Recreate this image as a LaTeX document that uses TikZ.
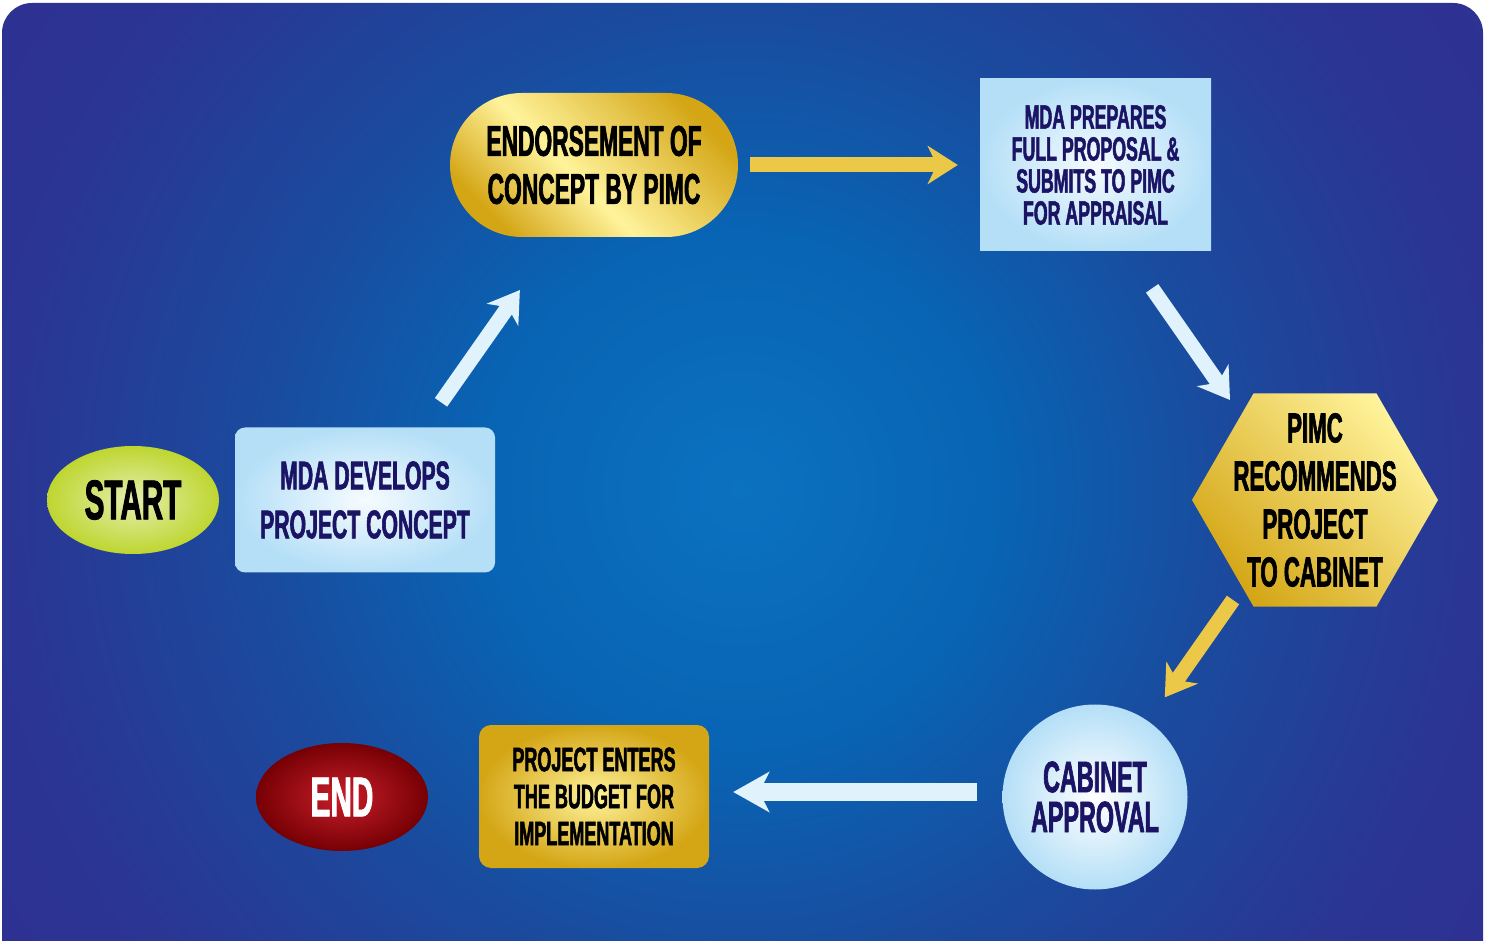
\documentclass[tikz,border=0pt]{standalone}
\usepackage{fontspec}
\setmainfont{Liberation Sans}[FakeStretch=0.53, BoldFeatures={FakeBold=1.5}]
\usetikzlibrary{shapes, arrows.meta, calc, positioning}
\definecolor{seacore}{RGB}{11,114,192}
\definecolor{seainner}{RGB}{8,100,180}
\definecolor{seamid}{RGB}{26,75,158}
\definecolor{searim}{RGB}{43,53,147}
\definecolor{seadeep}{RGB}{46,49,146}
\definecolor{limepale}{RGB}{230,238,175}
\definecolor{limedeep}{RGB}{190,214,48}
\definecolor{skypale}{RGB}{246,251,255}
\definecolor{skydeep}{RGB}{180,223,247}
\definecolor{golddeep}{RGB}{212,166,22}
\definecolor{goldpale}{RGB}{255,243,155}
\definecolor{endred}{RGB}{200,30,42}
\definecolor{endmaroon}{RGB}{118,0,4}
\definecolor{inkblue}{RGB}{27,20,100}
\definecolor{goldshaft}{RGB}{236,200,72}
\definecolor{frostshaft}{RGB}{224,242,252}
\pgfdeclareradialshading{seaglow}{\pgfpoint{0bp}{0bp}}{color(0bp)=(seacore); color(8bp)=(seainner); color(15bp)=(seamid); color(23bp)=(searim); color(28bp)=(seadeep); color(50bp)=(seadeep)}
\pgfdeclarehorizontalshading{goldsheen}{100bp}{color(0bp)=(golddeep); color(25bp)=(golddeep); color(45bp)=(goldpale); color(75bp)=(golddeep); color(100bp)=(golddeep)}
\pgfdeclarehorizontalshading{goldrise}{100bp}{color(0bp)=(golddeep); color(25bp)=(golddeep); color(75bp)=(goldpale); color(100bp)=(goldpale)}

\begin{document}
\begin{tikzpicture}[x=1pt, y=1pt,
    every node/.style={align=center, text=black},
    startcap/.style={ellipse, minimum width=172pt, minimum height=108pt, inner color=limepale, outer color=limedeep, font=\bfseries\fontsize{56}{60}\selectfont},
    endcap/.style={ellipse, minimum width=172pt, minimum height=108pt, inner color=endred, outer color=endmaroon, text=white, font=\bfseries\fontsize{56}{60}\selectfont},
    skybox/.style={rectangle, rounded corners=10pt, minimum width=260pt, minimum height=145pt, inner color=skypale, outer color=skydeep, text=inkblue, font=\bfseries\fontsize{40}{49}\selectfont},
    skyplate/.style={rectangle, minimum width=231pt, minimum height=172pt, inner color=skypale, outer color=skydeep, text=inkblue, font=\bfseries\fontsize{33.5}{32}\selectfont},
    skycircle/.style={circle, minimum size=185pt, inner sep=0pt, inner color=white, outer color=skydeep, text=inkblue, font=\bfseries\fontsize{44}{40}\selectfont},
    goldpill/.style={rectangle, rounded corners=72pt, minimum width=288pt, minimum height=144pt, shading=goldsheen, shading angle=45, font=\bfseries\fontsize{43}{48}\selectfont},
    goldhex/.style={regular polygon, regular polygon sides=6, minimum size=246pt, inner sep=0pt, shading=goldrise, shading angle=45},
    hextext/.style={align=center, font=\bfseries\fontsize{42}{48}\selectfont},
    goldbox/.style={rectangle, rounded corners=12pt, minimum width=230pt, minimum height=143pt, inner color=goldpale, outer color=golddeep, font=\bfseries\fontsize{34}{37}\selectfont},
    goldarrow/.style={draw=goldshaft, line width=15pt, -{Stealth[length=30pt, width=38pt, inset=9pt]}},
    frostarrow/.style={draw=frostshaft, line width=15pt, -{Stealth[length=30pt, width=38pt, inset=9pt]}}]

  \path[use as bounding box] (0,0) rectangle (1485,940);
  % backdrop
  \begin{scope}
    \clip[rounded corners=30pt] (2,-40) rectangle (1483,937);
    \shade[shading=seaglow] (-60,-350) rectangle (1540,1250);
  \end{scope}

  % steps
  \node[startcap] (start) at (133,440) {START};
  \node[skybox] (dev) at (365,440) {MDA DEVELOPS\\PROJECT CONCEPT};
  \node[goldpill] (endo) at (594,775) {ENDORSEMENT OF\\CONCEPT BY PIMC};
  \node[skyplate] (mdap) at (1095.5,775) {MDA PREPARES\\FULL PROPOSAL \&\\SUBMITS TO PIMC\\FOR APPRAISAL};
  \node[goldhex, label={[hextext]center:{PIMC\\RECOMMENDS\\PROJECT\\TO CABINET}}] (hex) at (1315,440) {};
  \node[skycircle] (cab) at (1095,143) {CABINET\\APPROVAL};
  \node[goldbox] (pent) at (594,143.5) {PROJECT ENTERS\\THE BUDGET FOR\\IMPLEMENTATION};
  \node[endcap] (finish) at (342,143) {END};

  % flow
  \draw[frostarrow, shorten <=30.5pt, shorten >=64.6pt] ([xshift=58.5pt]dev.north) -- ([xshift=-37pt]endo.south);
  \draw[goldarrow, shorten <=12pt, shorten >=22pt] (endo) -- (mdap);
  \draw[frostarrow, shorten <=45.3pt] ([xshift=30.7pt]mdap.south) -- ([xshift=-85pt, yshift=100pt]hex.center);
  \draw[goldarrow, shorten >=8.5pt] ([xshift=-82pt, yshift=-100pt]hex.center) -- ([xshift=64.9pt]cab.north);
  \draw[frostarrow, line width=18pt, -{Stealth[length=36pt, width=40pt, inset=10pt]}, shorten <=25pt, shorten >=24pt] ([yshift=5pt]cab.west) -- ([yshift=4.5pt]pent.east);
\end{tikzpicture}
\end{document}
